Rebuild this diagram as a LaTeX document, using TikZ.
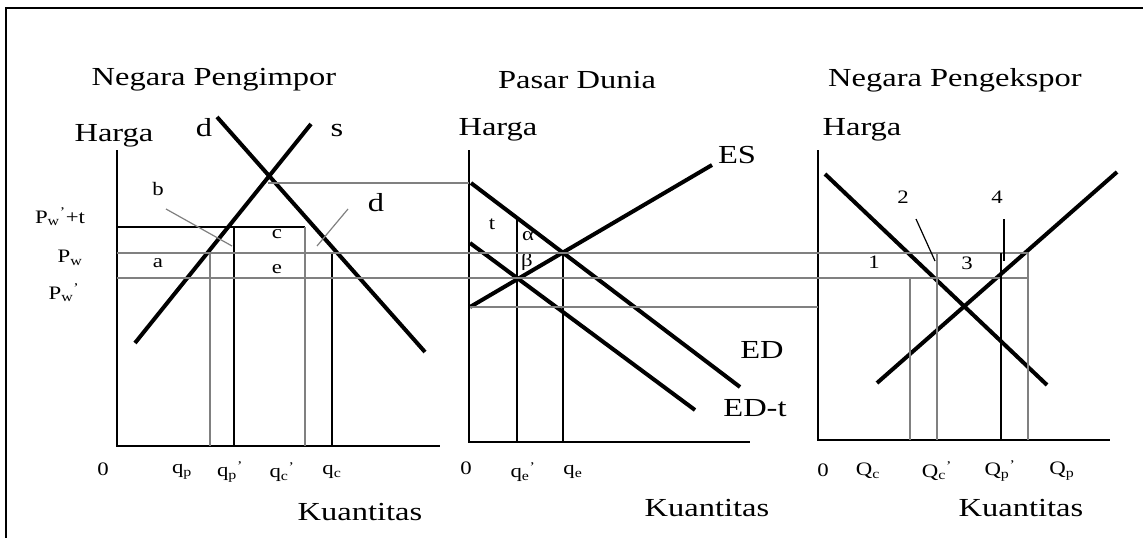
\documentclass[tikz,border=0pt]{standalone}
\usepackage{fontspec}
\setmainfont{Liberation Serif}
\usetikzlibrary{positioning}
\newcommand{\sub}[2]{#1\textsubscript{#2}}
\newcommand{\subp}[2]{#1\textsubscript{#2}\textsuperscript{'}}
\begin{document}
\begin{tikzpicture}[x=1pt,y=-1pt,
  curve/.style={line width=4pt},
  axis/.style={line width=1.4pt},
  thin/.style={line width=1.2pt},
  grey/.style={draw=black!50,line width=1.6pt},
  big/.style={font=\fontsize{26}{28}\selectfont,xscale=1.25,inner sep=0pt},
  small/.style={font=\fontsize{19}{21}\selectfont,xscale=1.2,inner sep=0pt}]
  \useasboundingbox (0,0) rectangle (1143,538);
  \draw[line width=2pt] (6,538) -- (6,8) -- (1143,8);
  % titles
  \node[big] (t1) at (214,80) {Negara Pengimpor};
  \node[big] (t2) at (577,80) {Pasar Dunia};
  \node[big] (t3) at (955,80) {Negara Pengekspor};
  % importing country
  \coordinate (o1) at (117,446); \coordinate (y1) at (117,150); \coordinate (x1) at (440,446);
  \draw[axis] (y1) -- (o1) -- (x1);
  \node[big] (h1) at (114,136) {Harga};
  \node[big] (k1) at (360,512) {Kuantitas};
  \coordinate (e1) at (268,183);
  \coordinate (s1a) at (135,343); \coordinate (s1b) at (311,124);
  \coordinate (d1a) at (217,117); \coordinate (d1b) at (425,352);
  \draw[curve] (s1a) -- (s1b); \draw[curve] (d1a) -- (d1b);
  \node[big] (dl) at (204,128) {d}; \node[big] (sl) at (337,130) {s};
  \coordinate (pwt) at (117,227); \coordinate (pw) at (117,253); \coordinate (pwp) at (117,278);
  \coordinate (qpt) at (234,227); \coordinate (qct) at (305,227);
  \draw[thin] (pwt) -- (qct);
  \draw[grey] (210,253) -- (210,446); \draw[thin] (qpt) -- (234,446);
  \draw[grey] (qct) -- (305,446); \draw[thin] (332,253) -- (332,446);
  \node[small] (lpwt) at (60,217) {\subp{P}{w}+t};
  \node[small] (lpw) at (70,258) {\sub{P}{w}};
  \node[small] (lpwp) at (64,293) {\subp{P}{w}};
  \node[small] (lb) at (158,189) {b}; \node[small] (la) at (158,263) {a};
  \node[small] (lc) at (277,234) {c}; \node[small] (le) at (277,269) {e};
  \node[big] (ld) at (376,203) {d};
  \coordinate (pb1) at (166,209); \coordinate (pb2) at (232,246);
  \coordinate (pd1) at (348,209); \coordinate (pd2) at (317,246);
  \draw[grey,line width=1.2pt] (pb1) -- (pb2); \draw[grey,line width=1.2pt] (pd1) -- (pd2);
  \node[small] (z1) at (103,469) {0};
  \node[small] (lqp) at (182,472) {\sub{q}{p}};
  \node[small] (lqpp) at (230,472) {\subp{q}{p}};
  \node[small] (lqcp) at (282,472) {\subp{q}{c}};
  \node[small] (lqc) at (332,472) {\sub{q}{c}};
  % world market
  \coordinate (o2) at (469,442); \coordinate (y2) at (469,150); \coordinate (x2) at (750,442);
  \draw[axis] (y2) -- (o2) -- (x2);
  \node[big] (h2) at (498,130) {Harga};
  \node[big] (k2) at (707,508) {Kuantitas};
  \coordinate (ed1) at (471,183); \coordinate (ed2) at (740,387);
  \coordinate (edt1) at (470,243); \coordinate (edt2) at (695,410);
  \coordinate (es1) at (470,307); \coordinate (es2) at (712,165);
  \draw[curve] (ed1) -- (ed2); \draw[curve] (edt1) -- (edt2); \draw[curve] (es1) -- (es2);
  \node[big] (les) at (737,155) {ES};
  \node[big] (led) at (762,350) {ED};
  \node[big] (ledt) at (755,408) {ED-t};
  \coordinate (e2) at (563,252); \coordinate (e2t) at (517,218);
  \draw[thin] (e2t) -- (517,442); \draw[thin] (e2) -- (563,442);
  \draw[grey] (e1) -- (y2 |- e1);
  \node[small] (lt) at (492,224) {t};
  \node[small] (lal) at (528,236) {α};
  \node[small] (lbe) at (527,262) {β};
  \node[small] (z2) at (466,468) {0};
  \node[small] (lqep) at (523,472) {\subp{q}{e}};
  \node[small] (lqe) at (573,472) {\sub{q}{e}};
  % exporting country
  \coordinate (o3) at (818,440); \coordinate (y3) at (818,150); \coordinate (x3) at (1110,440);
  \draw[axis] (y3) -- (o3) -- (x3);
  \node[big] (h3) at (862,130) {Harga};
  \node[big] (k3) at (1021,508) {Kuantitas};
  \coordinate (d3a) at (825,174); \coordinate (d3b) at (1047,385);
  \coordinate (s3a) at (877,383); \coordinate (s3b) at (1117,172);
  \draw[curve] (d3a) -- (d3b); \draw[curve] (s3a) -- (s3b);
  \coordinate (pwr) at (1028,253); \coordinate (pwpr) at (1028,278);
  \draw[grey] (pw) -- (pwr); \draw[grey] (pwp) -- (pwpr);
  \draw[grey] (es1) -- (o3 |- es1);
  \draw[grey] (910,278) -- (910,440); \draw[grey] (937,253) -- (937,440);
  \draw[thin] (1001,253) -- (1001,440); \draw[grey] (pwr) -- (1028,440);
  \coordinate (p21) at (916,219); \coordinate (p22) at (935,261);
  \coordinate (p41) at (1004,219); \coordinate (p42) at (1004,261);
  \draw[thin] (p21) -- (p22); \draw[thin] (p41) -- (p42);
  \node[small] (l1) at (874,262) {1}; \node[small] (l2) at (903,197) {2};
  \node[small] (l3) at (967,263) {3}; \node[small] (l4) at (997,197) {4};
  \node[small] (z3) at (823,470) {0};
  \node[small] (lQc) at (868,471) {\sub{Q}{c}};
  \node[small] (lQcp) at (937,471) {\subp{Q}{c}};
  \node[small] (lQpp) at (1000,471) {\subp{Q}{p}};
  \node[small] (lQp) at (1062,471) {\sub{Q}{p}};
\end{tikzpicture}
\end{document}
